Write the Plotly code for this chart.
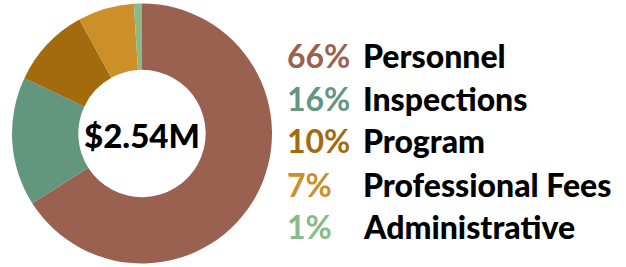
import plotly.graph_objects as go

labels = ["Personnel", "Inspections", "Program", "Professional Fees", "Administrative"]
values = [66, 16, 10, 7, 1]
pct_labels = ["66%", "16%", "10%", "7%", "1%"]
colors = ["#9A6150", "#63967F", "#A36A0E", "#CC8F2A", "#8AB98A"]
total_label = "$2.54M"

W, H = 626, 267
fig = go.Figure()
fig.add_trace(go.Pie(
    labels=labels, values=values, sort=False, direction="clockwise", rotation=0,
    hole=0.49, marker=dict(colors=colors, line=dict(width=0)),
    textinfo="none", hoverinfo="label+percent", showlegend=False,
    domain=dict(x=[12 / W, 272 / W], y=[2 / H, 265 / H]),
))

fig.add_annotation(text=total_label, x=142 / W, y=1 - 135 / H, xref="paper", yref="paper",
                   showarrow=False, xanchor="center", yanchor="middle",
                   font=dict(family="Lato", size=33, color="#000000", weight=900))

row_y = [55, 98, 140, 184, 226]
for pct, name, col, yy in zip(pct_labels, labels, colors, row_y):
    fig.add_annotation(text=pct, x=285 / W, y=1 - yy / H, xref="paper", yref="paper",
                       showarrow=False, xanchor="left", yanchor="middle",
                       font=dict(family="Lato", size=32, color=col, weight=700))
    fig.add_annotation(text=name, x=361 / W, y=1 - yy / H, xref="paper", yref="paper",
                       showarrow=False, xanchor="left", yanchor="middle",
                       font=dict(family="Lato", size=32, color="#000000", weight=900))

fig.update_layout(width=W, height=H, margin=dict(l=0, r=0, t=0, b=0),
                  paper_bgcolor="white", plot_bgcolor="white")
fig.write_html("out.html", config={"displayModeBar": False},
               post_script="document.body.style.margin='0';")
